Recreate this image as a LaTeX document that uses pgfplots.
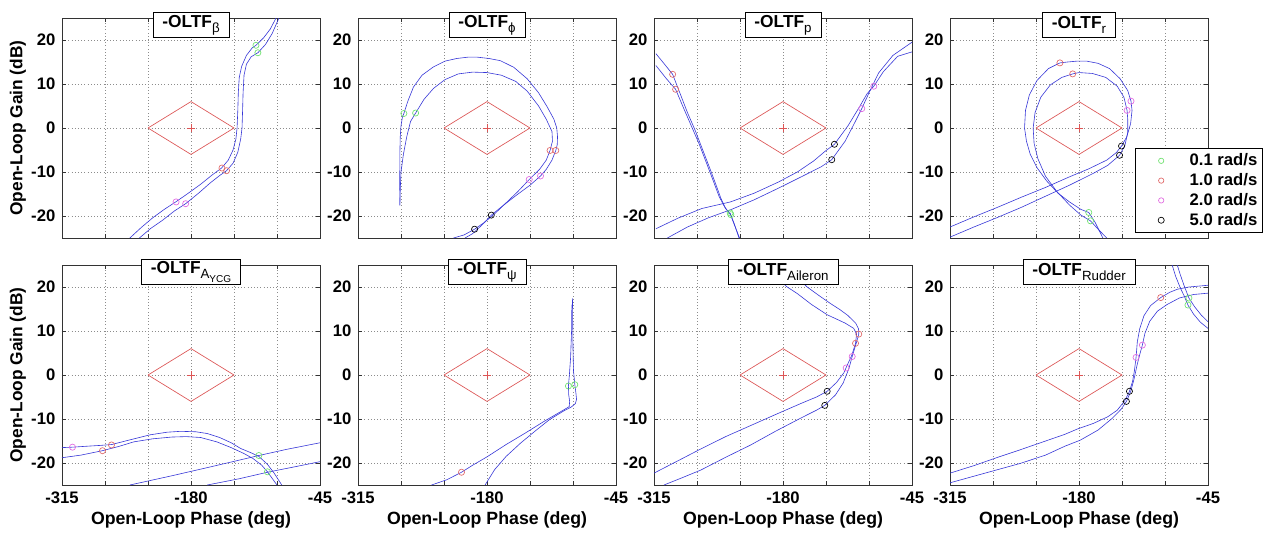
\documentclass[border=0pt]{standalone}
\usepackage{fontspec}
\setmainfont{Liberation Sans}
\usepackage{pgfplots}
\pgfplotsset{compat=1.18}
\definecolor{cur}{RGB}{55,55,215}
\definecolor{dia}{RGB}{220,85,85}
\definecolor{mg}{RGB}{110,225,110}
\definecolor{mr}{RGB}{225,105,105}
\definecolor{mm}{RGB}{225,105,225}
\definecolor{mk}{RGB}{75,75,75}
\definecolor{gridc}{RGB}{140,140,140}
\newcommand{\dia}{%
  \addplot[dia, line width=0.5pt] coordinates {(-225,0) (-180,6) (-135,0) (-180,-6) (-225,0)};
  \addplot[dia, line width=0.5pt] coordinates {(-184.5,0) (-175.5,0)};
  \addplot[dia, line width=0.5pt] coordinates {(-180,-1) (-180,1)};
}
\newcommand{\ttl}[1]{\node[draw=black, fill=white, anchor=south, minimum height=18.75pt, inner xsep=7pt, inner ysep=0pt, line width=0.5pt, font=\fontsize{13}{15}\selectfont, yshift=-15pt] at (rel axis cs:0.5,1) {#1};}
\newcommand{\sub}[1]{\raisebox{-4pt}{\fontsize{10}{12}\selectfont #1}}
\pgfplotsset{
 panel/.style={scale only axis, width=193.5pt, height=165pt, xmin=-315,xmax=-45,ymin=-25,ymax=25,
   xtick={-315,-270,-225,-180,-135,-90,-45}, ytick={-20,-10,0,10,20},
   grid=major, major grid style={gridc, dotted, line width=0.5pt},
   axis line style={black!80, line width=0.5pt},
   major tick length=3pt, tick align=inside, tick style={black!80, line width=0.5pt},
   tick label style={font=\fontsize{12.5}{14}\selectfont\bfseries},
   /pgf/number format/assume math mode=true,
   yticklabel style={xshift=-1.5pt},
   clip mode=individual,
   anchor=south west,
 },
 toprow/.style={panel, xticklabels={}},
 botrow/.style={panel, xticklabels={-315,,,-180,,,-45}, xticklabel style={yshift=-1.5pt},
   xlabel={Open-Loop Phase (deg)}, xlabel style={font=\fontsize{13.3}{15}\selectfont\bfseries, at={(axis description cs:0.5,-0.159)}, anchor=center}},
 leftcol/.style={ylabel={Open-Loop Gain (dB)}, ylabel style={font=\fontsize{13}{15}\selectfont\bfseries, at={(axis description cs:-0.1705,0.5)}, anchor=center}},
 cv/.style={cur, line width=0.45pt, mark=none},
 mk/.style={only marks, mark=o, mark size=2.3pt, mark options={line width=0.5pt}},
}
\begin{document}
\begin{tikzpicture}
\useasboundingbox (0,0) rectangle (949.5pt,399.75pt);
% ---------- Panel 1: beta
\begin{axis}[toprow, leftcol, at={(46.5pt,221.25pt)}]
\dia
\addplot[cv] coordinates {(-244,-25) (-232,-22.6) (-220,-20.4) (-208,-18.5) (-196,-16.8) (-184,-15) (-170,-12.8) (-158,-10.7) (-148,-9.1) (-141,-7.3) (-136,-5) (-133,-2.5) (-131.8,0) (-131,4) (-130.5,8) (-129.5,11.5) (-127,14) (-122,16.5) (-116,18.2) (-112,18.8) (-104,20.5) (-97,22.5) (-91,25)};
\addplot[cv] coordinates {(-234,-25) (-222,-22.8) (-210,-21) (-197,-18.8) (-185.6,-17.2) (-172,-14.8) (-160,-12.5) (-150,-10.8) (-142.8,-9.7) (-136,-8) (-131,-5.5) (-128,-2.5) (-126.6,0) (-126,4) (-125.5,8) (-124.5,12) (-122,14.5) (-117,16.2) (-110,17.1) (-102,19) (-95,21.5) (-88,25)};
\addplot[mk, mg] coordinates {(-112,18.8) (-110,17.1)};
\addplot[mk, mr] coordinates {(-147.6,-9.1) (-142.8,-9.7)};
\addplot[mk, mm] coordinates {(-195.6,-16.8) (-185.6,-17.2)};
\ttl{\textbf{-OLTF}\sub{β}}
\end{axis}
% ---------- Panel 2: phi
\begin{axis}[toprow, at={(268.5pt,221.25pt)}]
\dia
\addplot[cv] coordinates {(-271.2,-17.6) (-271.3,-12) (-271.2,-6) (-270.8,-2) (-270,0.5) (-268.5,2.5) (-267,3.3) (-263,6) (-257,9.3) (-248,12) (-236,13.9) (-224,15.2) (-211.6,15.8) (-200,16.1) (-190,16.1) (-178,15.8) (-166,15.3) (-152,13.8) (-138,11.2) (-126,8) (-117,4.8) (-110,2) (-107,0) (-106.2,-2) (-106.5,-3.8) (-108,-5.1) (-112,-7.3) (-118,-9.4) (-124,-10.9) (-135,-13) (-150,-15.4) (-163,-17.6) (-175.5,-19.8) (-185,-22) (-195,-24) (-203,-25)};
\addplot[cv] coordinates {(-271.2,-17.6) (-270.8,-14) (-270,-10) (-267.5,-6) (-264,-2) (-260,1.5) (-254.7,3.4) (-246,6.5) (-236,9) (-224,11) (-210,12.3) (-195,12.7) (-180,12.6) (-165,12) (-150,10.6) (-138,8.4) (-126,5) (-118,2) (-112,-0.8) (-111.5,-3) (-114,-5.1) (-118,-7.3) (-125,-9.4) (-135.8,-11.7) (-148,-14.5) (-160,-17) (-172,-19.5) (-183,-21.5) (-193,-23) (-204,-24.3) (-215,-25)};
\addplot[mk, mg] coordinates {(-267,3.3) (-254.7,3.4)};
\addplot[mk, mr] coordinates {(-108,-5.1) (-114,-5.1)};
\addplot[mk, mm] coordinates {(-124,-10.9) (-135.8,-11.7)};
\addplot[mk, mk] coordinates {(-175.5,-19.8) (-193,-23)};
\ttl{\textbf{-OLTF}\sub{ϕ}}
\end{axis}
% ---------- Panel 3: p
\begin{axis}[toprow, at={(490.5pt,221.25pt)}]
\dia
\addplot[cv] coordinates {(-313,16.9) (-304,14.5) (-295.5,12.2) (-288,8) (-280,3.5) (-272,-0.5) (-264,-5) (-256,-9.5) (-250,-13) (-245,-16) (-240,-18.3) (-235,-19.5) (-231,-21.8) (-226,-25)};
\addplot[cv] coordinates {(-313,14.2) (-302,11.2) (-292.4,8.8) (-284,4.5) (-276,0.5) (-268,-3.5) (-260,-8) (-253,-12) (-247,-15.5) (-241,-18) (-235,-19.7) (-230,-22.5) (-225.5,-25)};
\addplot[cv] coordinates {(-313,-22.9) (-290,-20.5) (-265,-18.3) (-235,-16.8) (-210,-14.8) (-185,-12.3) (-165,-10) (-148,-7.5) (-136,-5.3) (-126.2,-3.7) (-112,0.5) (-100,4.8) (-92,7.8) (-85,9.5) (-75,12.8) (-60,16.3) (-45,17.3)};
\addplot[cv] coordinates {(-301,-25) (-280,-22.5) (-258,-20.4) (-235,-18.6) (-210,-16.3) (-185,-13.7) (-160,-11) (-140,-8.8) (-129,-7.2) (-115,-3) (-105,1.2) (-97.6,4.4) (-90,8) (-80,12.5) (-65,16.5) (-45,19.5)};
\addplot[mk, mg] coordinates {(-235.3,-19.3) (-234.6,-19.7)};
\addplot[mk, mr] coordinates {(-295.5,12.2) (-292.4,8.8)};
\addplot[mk, mm] coordinates {(-97.6,4.4) (-85,9.5)};
\addplot[mk, mk] coordinates {(-126.2,-3.7) (-129,-7.2)};
\ttl{\textbf{-OLTF}\sub{p}}
\end{axis}
% ---------- Panel 4: r
\begin{axis}[toprow, at={(712.5pt,221.25pt)},
  legend style={at={(1.213,0.023)}, anchor=south east, draw=black, fill=white, font=\fontsize{12.5}{14}\selectfont\bfseries, row sep=0.3pt, inner xsep=2pt, inner ysep=2pt, cells={anchor=west}, line width=0.5pt},
  legend image code/.code={\path[draw=none, fill=none] (0cm,-0.05cm) rectangle (1.3cm,0.05cm); \draw[#1] plot coordinates {(0.62cm,0cm)};}]
\addlegendimage{only marks, mark=o, mark size=2pt, mg}
\addlegendimage{only marks, mark=o, mark size=2pt, mr}
\addlegendimage{only marks, mark=o, mark size=2pt, mm}
\addlegendimage{only marks, mark=o, mark size=2pt, mk}
\dia
\addplot[cv] coordinates {(-315,-22.5) (-290,-20.2) (-265,-18) (-240,-15.7) (-215,-13.5) (-190,-11.1) (-170,-9.3) (-151,-7.3) (-141,-5.6) (-135.5,-4.1) (-130,-2) (-126,1) (-124.5,4) (-125.6,6.1) (-129,8.5) (-137,11.2) (-148,13.5) (-160,14.7) (-172,15.2) (-182,15.2) (-192,15) (-200,14.8) (-212,13.5) (-224,10.8) (-232,7.5) (-236,4) (-237,0) (-235,-3) (-231,-6) (-224,-9) (-214,-12) (-202,-14.8) (-190,-16.8) (-178,-18.5) (-169.8,-19.2) (-163,-21.5) (-155,-25)};
\addplot[cv] coordinates {(-315,-24.8) (-290,-22.5) (-265,-20.3) (-240,-18) (-215,-15.5) (-190,-13) (-165,-10.3) (-150,-8.5) (-137.6,-6.2) (-132,-4) (-129,-1) (-129,2) (-129.7,4) (-133,7) (-140,9.5) (-152,11.5) (-166,12.4) (-180,12.6) (-186.6,12.3) (-198,11.5) (-210,9.8) (-220,7) (-226,3.5) (-228,0) (-227,-3.5) (-223,-7) (-215,-11) (-203,-14.5) (-190,-17.5) (-178,-19.8) (-168,-21.1) (-160,-23) (-151,-25)};
\addplot[mk, mg] coordinates {(-169.8,-19.2) (-168,-21.1)};
\addplot[mk, mr] coordinates {(-200,14.8) (-186.6,12.3)};
\addplot[mk, mm] coordinates {(-125.6,6.1) (-129.7,4)};
\addplot[mk, mk] coordinates {(-135.5,-4.1) (-137.6,-6.2)};
\legend{0.1 rad/s, 1.0 rad/s, 2.0 rad/s, 5.0 rad/s}
\ttl{\textbf{-OLTF}\sub{r}}
\end{axis}
% ---------- Panel 5: A_YCG
\begin{axis}[botrow, leftcol, at={(46.5pt,36pt)}]
\dia
\addplot[cv] coordinates {(-315,-16.5) (-304,-16.4) (-290,-16.2) (-275,-16) (-263,-15.8) (-245,-14.8) (-223,-13.6) (-205,-13) (-191,-12.8) (-175,-12.9) (-163,-13.3) (-150,-14.2) (-138,-15.4) (-128,-16.7) (-118,-17.6) (-109,-18.5) (-100,-20.3) (-93,-22.3) (-88,-24) (-85,-25)};
\addplot[cv] coordinates {(-315,-18.8) (-295,-18.2) (-272.6,-17.2) (-255,-16.2) (-240,-15.2) (-220,-14.5) (-200,-14.1) (-185,-14) (-170,-14.2) (-153,-15.2) (-138,-16.5) (-125,-17.8) (-115,-19) (-106,-20.5) (-100,-22) (-95,-23.5) (-90,-25)};
\addplot[cv] coordinates {(-244,-25) (-200,-22.9) (-160,-20.9) (-109,-18.3) (-80,-16.9) (-45,-15.4)};
\addplot[cv] coordinates {(-163,-25) (-130,-23.6) (-100,-22.1) (-70,-20.8) (-45,-19.7)};
\addplot[mk, mg] coordinates {(-109,-18.3) (-100,-22)};
\addplot[mk, mr] coordinates {(-272.6,-17.2) (-263.2,-15.9)};
\addplot[mk, mm] coordinates {(-304,-16.4)};
\ttl{\textbf{-OLTF}\raisebox{-4pt}{\fontsize{10}{12}\selectfont A\raisebox{-3pt}{\fontsize{7.5}{9}\selectfont YCG}}}
\end{axis}
% ---------- Panel 6: psi
\begin{axis}[botrow, at={(268.5pt,36pt)}]
\dia
\addplot[cv] coordinates {(-90.6,17.4) (-90.3,12) (-90,6) (-89.5,1) (-88.6,-1) (-88.1,-2.2) (-87,-4) (-86.3,-5.5) (-87.5,-6.5) (-92,-7.3) (-100,-8.2) (-115,-10.2) (-130,-12.8) (-145,-15.5) (-160,-18.5) (-172,-21.5) (-182,-25)};
\addplot[cv] coordinates {(-91.2,16) (-91.5,10) (-92.5,4) (-93.8,0) (-94.8,-2.5) (-94.5,-4.5) (-93.5,-6) (-94,-7.2) (-105,-8.6) (-120,-10.5) (-140,-13.2) (-160,-15.8) (-180,-18.6) (-195,-20.5) (-206.7,-22.1) (-222,-23.8) (-238,-25)};
\addplot[mk, mg] coordinates {(-94.8,-2.5) (-88.1,-2.2)};
\addplot[mk, mr] coordinates {(-206.7,-22.1)};
\ttl{\textbf{-OLTF}\sub{ψ}}
\end{axis}
% ---------- Panel 7: Aileron
\begin{axis}[botrow, at={(490.5pt,36pt)}]
\dia
\addplot[cv] coordinates {(-315,-22.3) (-290,-19.5) (-266,-16.8) (-240,-14) (-214,-11.5) (-188,-9) (-161.6,-6.5) (-145,-5) (-133.8,-3.7) (-124,-1.7) (-116.3,0.5) (-113.9,1.7) (-108,4.5) (-104.1,7.2) (-103,9.3) (-106,10.6) (-115,11.8) (-133.8,13.7) (-150,16) (-165,18.5) (-175.6,20) (-185,21.8) (-195,23.5) (-203,25)};
\addplot[cv] coordinates {(-304.5,-25) (-285,-23.3) (-266,-21.6) (-240,-18.7) (-213.8,-15.9) (-188,-12.8) (-161.5,-9.8) (-145,-8) (-136.3,-6.9) (-125,-4.5) (-117,-1.8) (-111,1.5) (-107.6,4.2) (-103,7.5) (-100.7,9.3) (-101,10.5) (-104,11.8) (-112,13.5) (-120,14.8) (-130,16.2) (-142,18) (-154.7,20) (-162,21.5) (-170,23.3) (-176,25)};
\addplot[mk, mr] coordinates {(-104.1,7.2) (-100.7,9.3)};
\addplot[mk, mm] coordinates {(-113.9,1.6) (-107.6,4.2)};
\addplot[mk, mk] coordinates {(-133.8,-3.7) (-136.3,-6.9)};
\ttl{\textbf{-OLTF}\sub{Aileron}}
\end{axis}
% ---------- Panel 8: Rudder
\begin{axis}[botrow, at={(712.5pt,36pt)}]
\dia
\addplot[cv] coordinates {(-315,-22.3) (-290,-20.6) (-265,-18.7) (-241.6,-17) (-215,-15) (-195,-13.5) (-182,-12.3) (-165,-11) (-150,-9.5) (-140,-8) (-132,-5.8) (-127.2,-3.7) (-124,-1.5) (-122,1) (-120.3,4) (-119,7.5) (-116.5,10.5) (-112,13.5) (-105,15.8) (-94.5,17.6) (-85,18.8) (-77,19.5) (-65,20) (-45,20.4)};
\addplot[cv] coordinates {(-315,-24.5) (-290,-23) (-265,-21.5) (-241.6,-20.1) (-215,-18.2) (-195,-16.2) (-178.6,-14.8) (-160,-12.5) (-145,-9.8) (-136,-7.8) (-130.4,-6) (-126,-3.8) (-122.6,-1.1) (-119,2.5) (-116,5) (-113.7,6.8) (-111,9.5) (-106,12.2) (-98,14.5) (-88,16) (-75,17.5) (-60,18.3) (-45,18.6)};
\addplot[cv] coordinates {(-82.5,25) (-79,22.5) (-74,19.8) (-70,18) (-66,15.9) (-60,13.8) (-53,12) (-45,10.6)};
\addplot[cv] coordinates {(-77.2,25) (-74,22.8) (-70,20.3) (-65,17.5) (-59,15.5) (-52,13.6) (-45,12.1)};
\addplot[mk, mg] coordinates {(-65,17.5) (-66,15.9)};
\addplot[mk, mr] coordinates {(-94.5,17.6)};
\addplot[mk, mm] coordinates {(-120.3,4) (-113.7,6.8)};
\addplot[mk, mk] coordinates {(-127.2,-3.7) (-130.4,-6)};
\ttl{\textbf{-OLTF}\sub{Rudder}}
\end{axis}
\end{tikzpicture}
\end{document}
